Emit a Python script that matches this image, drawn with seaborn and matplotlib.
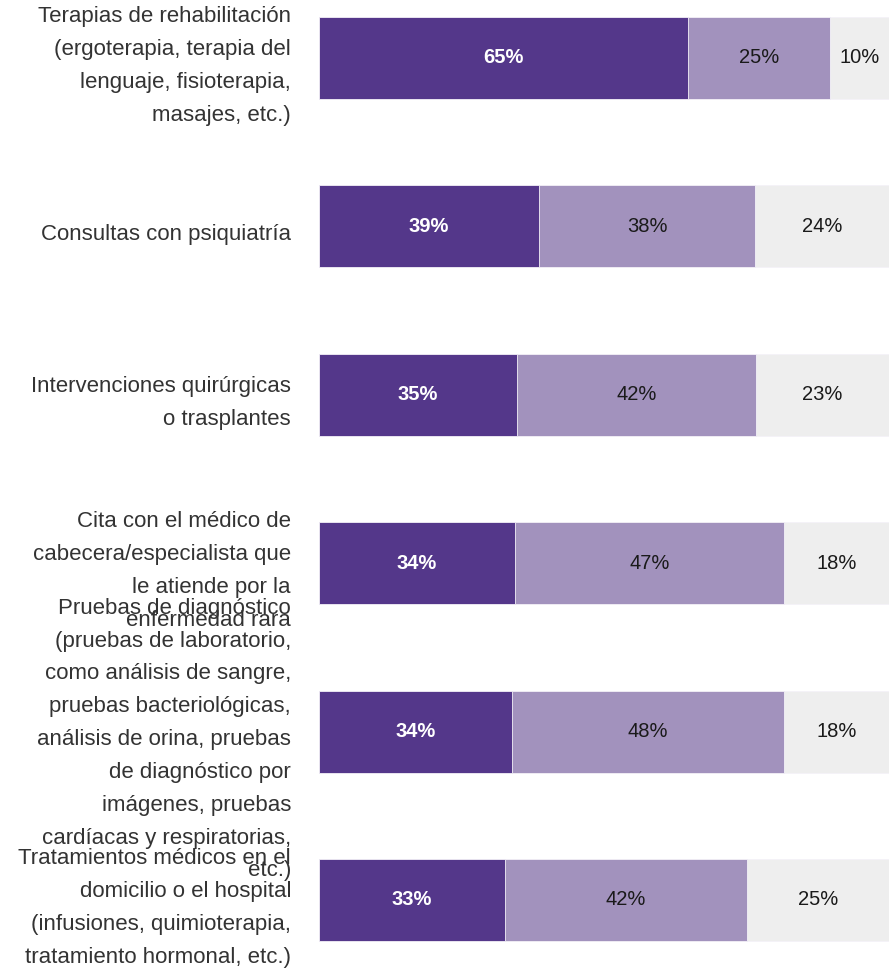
import matplotlib
matplotlib.use("Agg")
import matplotlib.pyplot as plt
import matplotlib.transforms as mtransforms
import pandas as pd
import seaborn as sns

# categories (already wrapped as in the reference)
categories = [
    "Terapias de rehabilitación\n(ergoterapia, terapia del\nlenguaje, fisioterapia,\nmasajes, etc.)",
    "Consultas con psiquiatría",
    "Intervenciones quirúrgicas\no trasplantes",
    "Cita con el médico de\ncabecera/especialista que\nle atiende por la\nenfermedad rara",
    "Pruebas de diagnóstico\n(pruebas de laboratorio,\ncomo análisis de sangre,\npruebas bacteriológicas,\nanálisis de orina, pruebas\nde diagnóstico por\nimágenes, pruebas\ncardíacas y respiratorias,\netc.)",
    "Tratamientos médicos en el\ndomicilio o el hospital\n(infusiones, quimioterapia,\ntratamiento hormonal, etc.)",
]
# three answer groups, percent of respondents
serie_a = [64.7, 38.6, 34.7, 34.4, 33.9, 32.6]
serie_b = [24.9, 37.9, 41.9, 47.2, 47.7, 42.4]
serie_c = [10.4, 23.5, 23.4, 18.4, 18.4, 25.0]

COL_A = "#54378a"
COL_B = "#a292bd"
COL_C = "#eeeeee"

df = pd.DataFrame({"cat": categories, "a": serie_a, "b": serie_b, "c": serie_c})
df["ab"] = df["a"] + df["b"]
df["abc"] = df["ab"] + df["c"]

sns.set_theme(style="white")
plt.rcParams["font.family"] = ["Liberation Sans", "DejaVu Sans"]

fig = plt.figure(figsize=(8.92, 9.68), dpi=100)
ax = fig.add_axes([319 / 892, 0, 570 / 892, 1])

# stacked bars drawn as cumulative layers, widest first
for col, color in [("abc", COL_C), ("ab", COL_B), ("a", COL_A)]:
    sns.barplot(data=df, x=col, y="cat", orient="h", color=color, width=0.487,
                edgecolor="#f4f2f8", linewidth=0.6, ax=ax, saturation=1)

ax.set_xlim(0, df["abc"].max())
ax.set_ylim(5 + 68 / 168.4, -58 / 168.4)
ax.set_xlabel("")
ax.set_ylabel("")
ax.set_xticks([])
ax.set_yticks(range(len(categories)))
ax.set_yticklabels([])
ax.tick_params(left=False)
for s in ax.spines.values():
    s.set_visible(False)

# category labels, right aligned left of the bars
lab_tr = mtransforms.offset_copy(ax.get_yaxis_transform(), fig=fig, x=-28, y=-8, units="dots")
for i, cat in enumerate(categories):
    ax.text(0, i, cat, transform=lab_tr, ha="right", va="center", fontsize=16.0,
            color="#333333", linespacing=1.74, multialignment="right")

# value labels centred in each segment
for i in range(len(categories)):
    starts = [0, serie_a[i], serie_a[i] + serie_b[i]]
    vals = [serie_a[i], serie_b[i], serie_c[i]]
    for j, (x0, v) in enumerate(zip(starts, vals)):
        ax.text(x0 + v / 2, i, f"{round(v)}%", ha="center", va="center",
                fontsize=14.5, fontweight="bold" if j == 0 else "normal",
                color="white" if j == 0 else "#1a1a1a")

fig.savefig("out.png", dpi=100)
